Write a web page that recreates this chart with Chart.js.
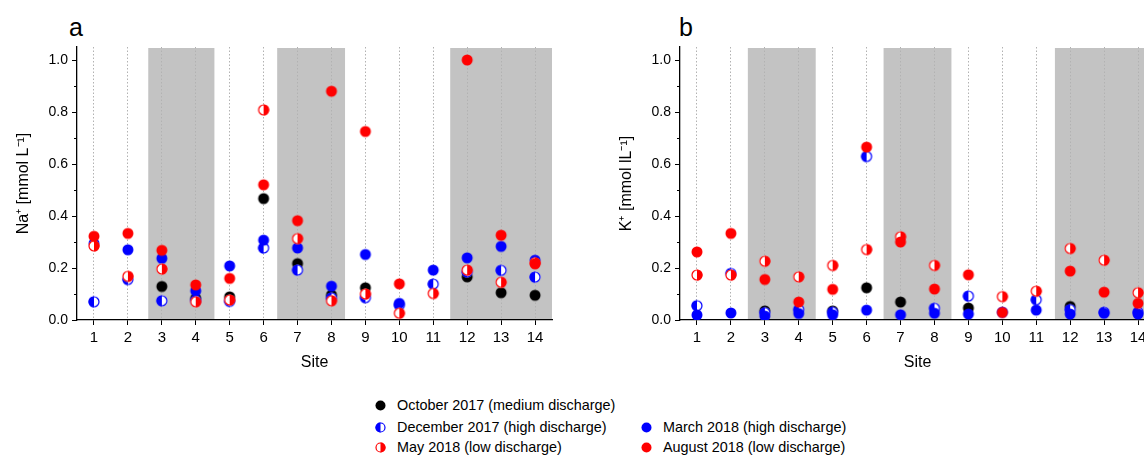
<!DOCTYPE html>
<html>
<head>
<meta charset="utf-8">
<script src="https://cdn.jsdelivr.net/npm/chart.js@4"></script>
<style>
  html, body { margin: 0; padding: 0; width: 1144px; height: 455px; overflow: hidden; background: #fff; }
  body { position: relative; font-family: "Liberation Sans", Arial, sans-serif; color: #000; }
  .panel { position: absolute; top: 0; width: 575px; height: 380px; }
  #wrapA { left: 0; }
  #wrapB { left: 600px; }
  .tag { position: absolute; top: 12px; font-size: 25px; line-height: 30px; }
  .leg { position: absolute; font-size: 14.4px; line-height: 16px; white-space: nowrap; }
  .leg canvas { position: absolute; }
</style>
</head>
<body>
<div class="tag" style="left:69px">a</div>
<div class="tag" style="left:679px">b</div>
<div id="wrapA" class="panel"><canvas id="chartA"></canvas></div>
<div id="wrapB" class="panel"><canvas id="chartB"></canvas></div>
<div id="legend"></div>

<script>
// sites on the x axis
const sites = [1, 2, 3, 4, 5, 6, 7, 8, 9, 10, 11, 12, 13, 14];
const yMajor = [0, 0.2, 0.4, 0.6, 0.8, 1.0];
const yMinor = [0.1, 0.3, 0.5, 0.7, 0.9];

// a: Na+ [mmol L-1]
const naOct = [null, null, 0.129, 0.083, 0.089, 0.467, 0.217, 0.096, 0.124, null, null, 0.166, 0.105, 0.095];
const naDec = [0.070, 0.156, 0.074, 0.075, 0.072, 0.277, 0.192, 0.085, 0.086, 0.057, 0.138, 0.185, 0.191, 0.165];
const naMar = [0.294, 0.270, 0.237, 0.112, 0.208, 0.307, 0.277, 0.130, 0.252, 0.064, 0.192, 0.239, 0.283, 0.230];
const naMay = [0.285, 0.168, 0.196, 0.070, 0.077, 0.808, 0.313, 0.074, 0.100, 0.026, 0.102, 0.192, 0.145, 0.220];
const naAug = [0.322, 0.333, 0.268, 0.135, 0.160, 0.520, 0.382, 0.880, 0.725, 0.139, null, 1.000, 0.326, 0.216];

// b: K+ [mmol lL-1]
const kOct = [null, null, 0.035, null, 0.035, 0.124, 0.069, null, 0.046, null, null, 0.052, null, null];
const kDec = [0.055, 0.179, 0.028, 0.040, 0.030, 0.629, null, 0.045, 0.092, null, 0.078, 0.040, 0.030, 0.030];
const kMar = [0.019, 0.027, 0.015, 0.025, 0.020, 0.038, 0.020, 0.026, 0.023, 0.030, 0.038, 0.023, 0.026, 0.023];
const kMay = [0.173, 0.173, 0.226, 0.166, 0.210, 0.271, 0.320, 0.210, null, 0.090, 0.111, 0.275, 0.230, 0.105];
const kAug = [0.262, 0.333, 0.156, 0.069, 0.118, 0.665, 0.300, 0.119, 0.174, 0.029, null, 0.188, 0.107, 0.064];

// shaded site groups
const bandsA = [[2.6, 4.55], [6.4, 8.4], [11.5, 14.5]];
const bandsB = [[2.5, 4.5], [6.5, 8.5], [11.55, 14.5]];

const seriesNames = [
    'October 2017 (medium discharge)',
    'December 2017 (high discharge)',
    'March 2018 (high discharge)',
    'May 2018 (low discharge)',
    'August 2018 (low discharge)',
];
const seriesColors = ['#000000', '#0000ff', '#0000ff', '#ff0000', '#ff0000'];
const seriesFill = ['full', 'left', 'full', 'right', 'full'];

const R = 5.5;
const FONT = '"Liberation Sans", Arial, sans-serif';

function markerImage(color, kind, r) {
    const size = Math.ceil(r * 2 + 3);
    const c = document.createElement('canvas');
    c.width = size; c.height = size;
    const g = c.getContext('2d');
    const m = size / 2;
    if (kind === 'full') {
        g.fillStyle = color;
        g.beginPath(); g.arc(m, m, r, 0, Math.PI * 2); g.fill();
        return c;
    }
    g.fillStyle = '#fff';
    g.beginPath(); g.arc(m, m, r, 0, Math.PI * 2); g.fill();
    g.fillStyle = color;
    g.beginPath();
    if (kind === 'left') g.arc(m, m, r, Math.PI / 2, Math.PI * 1.5);
    else g.arc(m, m, r, -Math.PI / 2, Math.PI / 2);
    g.closePath(); g.fill();
    g.strokeStyle = color; g.lineWidth = 1.2;
    g.beginPath(); g.arc(m, m, r - 0.5, 0, Math.PI * 2); g.stroke();
    return c;
}

const markers = seriesColors.map((c, i) => markerImage(c, seriesFill[i], R));

function toPoints(values) {
    const pts = [];
    values.forEach((v, i) => { if (v !== null) pts.push({ x: sites[i], y: v }); });
    return pts;
}

const bandPlugin = {
    id: 'bands',
    beforeDraw(chart, args, opts) {
        const { ctx, chartArea } = chart;
        const xs = chart.scales.x;
        ctx.save();
        ctx.fillStyle = '#c3c3c3';
        opts.ranges.forEach(([a, b]) => {
            const x1 = xs.getPixelForValue(a);
            const x2 = Math.min(xs.getPixelForValue(b), chartArea.right);
            ctx.fillRect(x1, chartArea.top + 1, x2 - x1, chartArea.bottom - chartArea.top - 1);
        });
        ctx.restore();
    },
    afterDraw(chart) {
        // short minor ticks on the y axis
        const { ctx } = chart;
        const ys = chart.scales.y;
        ctx.save();
        ctx.strokeStyle = '#000';
        ctx.lineWidth = 1;
        yMinor.forEach(v => {
            const y = Math.round(ys.getPixelForValue(v)) + 0.5;
            ctx.beginPath();
            ctx.moveTo(ys.right - 3, y);
            ctx.lineTo(ys.right, y);
            ctx.stroke();
        });
        ctx.restore();
    }
};

function makeChart(id, values, bands, yTitle, yWidth, padRight, titlePad) {
    const datasets = values.map((vals, i) => ({
        label: seriesNames[i],
        data: toPoints(vals),
        pointStyle: markers[i],
        pointRadius: R,
        order: 5 - i,
    }));
    return new Chart(document.getElementById(id), {
        type: 'scatter',
        data: { datasets },
        plugins: [bandPlugin],
        options: {
            responsive: true,
            maintainAspectRatio: false,
            animation: false,
            layout: { padding: { top: 47, right: padRight, left: 0, bottom: 0 } },
            plugins: {
                legend: { display: false },
                tooltip: { enabled: false },
                bands: { ranges: bands },
            },
            scales: {
                x: {
                    type: 'linear',
                    min: 0.5,
                    max: 14.5,
                    afterBuildTicks: s => { s.ticks = sites.map(v => ({ value: v })); },
                    afterFit: s => { s.height = 60; },
                    ticks: {
                        color: '#000',
                        font: { family: FONT, size: 15 },
                        padding: 4,
                        callback: v => String(v),
                    },
                    grid: { color: '#b2b2b2', tickColor: '#000', tickLength: 5, lineWidth: 1 },
                    border: { color: '#000', width: 1.3, dash: [1.5, 2] },
                    title: {
                        display: true,
                        text: 'Site',
                        color: '#000',
                        font: { family: FONT, size: 16 },
                        padding: { top: 0, bottom: 8 },
                    },
                },
                y: {
                    min: 0,
                    max: 1.05,
                    afterBuildTicks: s => { s.ticks = yMajor.map(v => ({ value: v })); },
                    afterFit: s => { s.width = yWidth; },
                    ticks: {
                        color: '#000',
                        font: { family: FONT, size: 14 },
                        padding: 4,
                        callback: v => v.toFixed(1),
                    },
                    grid: { drawOnChartArea: false, tickColor: '#000', tickLength: 5 },
                    border: { color: '#000', width: 1.3 },
                    title: {
                        display: true,
                        text: yTitle,
                        color: '#000',
                        font: { family: FONT, size: 16 },
                        padding: { top: titlePad, bottom: 0 },
                    },
                },
            },
        },
    });
}

makeChart('chartA', [naOct, naDec, naMar, naMay, naAug], bandsA, 'Na⁺ [mmol L⁻¹]', 77, 23, 14);
makeChart('chartB', [kOct, kDec, kMar, kMay, kAug], bandsB, 'K⁺ [mmol lL⁻¹]', 80, 20, 17);

// legend below the panels
const legendPos = [
    [380, 405], [380, 427], [646, 427], [380, 447], [646, 447],
];
const legend = document.getElementById('legend');
seriesNames.forEach((name, i) => {
    const [cx, cy] = legendPos[i];
    const icon = markerImage(seriesColors[i], seriesFill[i], 5);
    const item = document.createElement('div');
    item.className = 'leg';
    item.style.left = (cx - icon.width / 2) + 'px';
    item.style.top = (cy - 8) + 'px';
    icon.style.left = '0px';
    icon.style.top = (8 - icon.height / 2) + 'px';
    const text = document.createElement('span');
    text.textContent = name;
    text.style.position = 'absolute';
    text.style.left = (17 + icon.width / 2) + 'px';
    text.style.top = '0px';
    item.appendChild(icon);
    item.appendChild(text);
    legend.appendChild(item);
});
</script>
</body>
</html>
